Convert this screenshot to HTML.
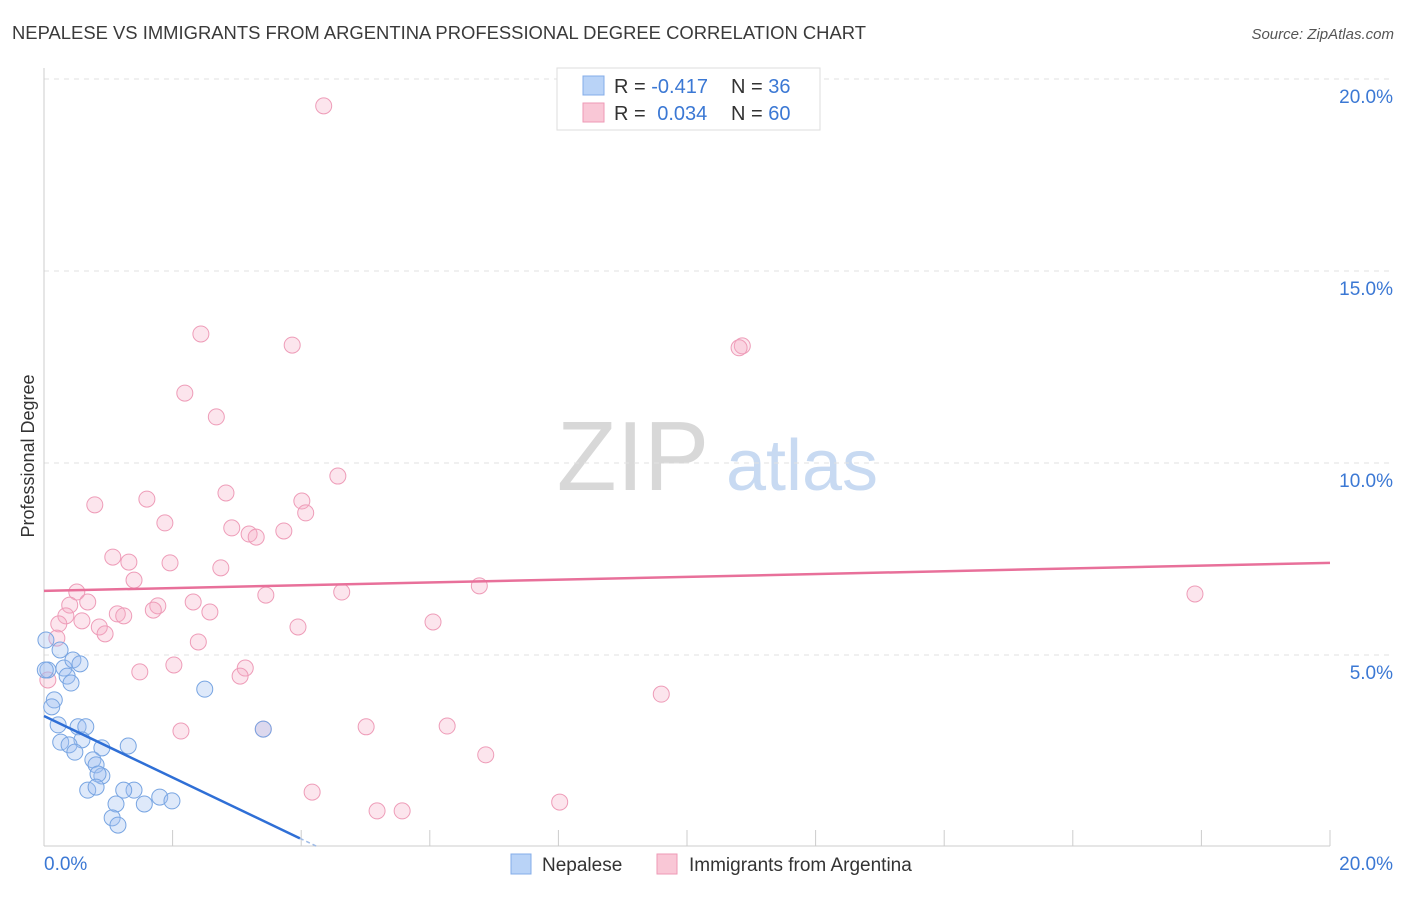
<!DOCTYPE html>
<html><head><meta charset="utf-8"><style>
body{margin:0;background:#fff;font-family:"Liberation Sans",sans-serif}
svg text{font-family:"Liberation Sans",sans-serif}
</style></head><body>
<svg id="c" width="1406" height="892" viewBox="0 0 1406 892">
<text x="12" y="39" font-size="18" fill="#3a3a3a" textLength="854" lengthAdjust="spacingAndGlyphs">NEPALESE VS IMMIGRANTS FROM ARGENTINA PROFESSIONAL DEGREE CORRELATION CHART</text>
<text x="1394" y="39" font-size="15" font-style="italic" fill="#555" text-anchor="end">Source: ZipAtlas.com</text>
<text x="34" y="456" font-size="18" fill="#333" text-anchor="middle" transform="rotate(-90 34 456)">Professional Degree</text>
<g><text x="633" y="490" font-size="98" font-family="Liberation Serif" fill="#d8d8d8" text-anchor="middle">ZIP</text><text x="802" y="490" font-size="72" fill="#c8daf2" text-anchor="middle">atlas</text></g>
<g id="grid"></g><g id="marks"></g>
<g>
<rect x="557" y="68" width="263" height="62" fill="#fff" stroke="#ddd"/>
<rect x="583" y="76" width="21" height="19" fill="#b9d3f7" stroke="#84ade8"/>
<rect x="583" y="103" width="21" height="19" fill="#f9c7d6" stroke="#ee9ab6"/>
<text x="614" y="93" font-size="20" fill="#333">R = <tspan fill="#3b78d4">-0.417</tspan></text>
<text x="731" y="93" font-size="20" fill="#333">N = <tspan fill="#3b78d4">36</tspan></text>
<text x="614" y="120" font-size="20" fill="#333">R = <tspan fill="#3b78d4" dx="6">0.034</tspan></text>
<text x="731" y="120" font-size="20" fill="#333">N = <tspan fill="#3b78d4">60</tspan></text>
</g>
<g>
<rect x="511" y="854" width="20" height="20" fill="#b9d3f7" stroke="#84ade8"/>
<text x="542" y="871" font-size="19" fill="#333">Nepalese</text>
<rect x="657" y="854" width="20" height="20" fill="#f9c7d6" stroke="#ee9ab6"/>
<text x="689" y="871" font-size="19" fill="#333">Immigrants from Argentina</text>
</g>
</svg>
<script>
const yTicks=[5,10,15,20];
const xTickVals=[0,2,4,6,8,10,12,14,16,18,20];
const pinkX=[4.35,2.44,3.86,10.86,10.81,2.19,2.68,4.57,1.60,2.83,4.01,0.79,4.07,1.88,2.92,3.19,3.30,3.73,1.07,1.32,1.96,2.75,1.40,0.51,6.77,17.90,3.45,4.63,2.32,0.68,0.40,1.77,1.70,1.14,1.24,2.58,0.34,0.59,0.23,0.86,3.95,6.05,0.95,0.20,2.40,2.02,3.13,3.05,1.49,9.60,2.13,3.41,5.01,6.27,6.87,4.17,5.18,5.57,8.02,0.06];
const pinkY=[19.30,13.36,13.07,13.05,13.0,11.82,11.20,9.66,9.06,9.22,9.01,8.91,8.70,8.44,8.31,8.15,8.07,8.23,7.55,7.42,7.40,7.27,6.95,6.64,6.80,6.59,6.56,6.64,6.38,6.38,6.30,6.28,6.17,6.07,6.02,6.12,6.02,5.89,5.81,5.73,5.73,5.86,5.55,5.44,5.34,4.74,4.66,4.45,4.56,3.98,3.02,3.07,3.13,3.15,2.40,1.43,0.94,0.94,1.17,4.35];
const blueX=[0.03,0.25,0.06,0.31,0.36,0.45,0.56,0.42,0.16,0.12,0.22,0.53,0.65,0.59,0.26,0.39,0.48,0.90,1.31,0.76,0.81,0.90,0.84,0.68,0.81,1.40,1.24,1.80,1.99,1.12,1.56,1.06,1.15,2.50,3.41,0.02];
const blueY=[5.39,5.13,4.61,4.66,4.45,4.87,4.77,4.27,3.83,3.65,3.18,3.13,3.13,2.79,2.73,2.66,2.47,2.58,2.63,2.27,2.14,1.85,1.90,1.48,1.56,1.48,1.48,1.30,1.20,1.12,1.12,0.76,0.57,4.11,3.07,4.61];
const pinkTrend=[6.67,7.40];
const blueTrend=[3.41,-0.80];
const NS='http://www.w3.org/2000/svg';
const X=v=>44+v*64.3, Y=v=>847-v*38.4;
function mk(t,a,p){const e=document.createElementNS(NS,t);for(const k in a)e.setAttribute(k,a[k]);p.appendChild(e);return e;}
const g=document.getElementById('grid'),m=document.getElementById('marks');
yTicks.forEach(v=>{
 const l=mk('line',{x1:44,x2:1393,y1:Y(v),y2:Y(v),stroke:'#e2e2e2','stroke-dasharray':'5,5'},g);
 
 
 const t=mk('text',{x:1393,y:Y(v)+24,'font-size':19,fill:'#3b78d4','text-anchor':'end'},g);
 t.textContent=v.toFixed(1)+'%';
 
 
});
const ax=mk('line',{x1:44,x2:44,y1:68,y2:846,stroke:'#ccc'},g);


const bx=mk('line',{x1:44,x2:1330,y1:846,y2:846,stroke:'#ccc'},g);


xTickVals.forEach(v=>{const l=mk('line',{x1:X(v),x2:X(v),y1:830,y2:846,stroke:'#ccc'},g);
 
 });
[[0,'start',44],[20,'end',1393]].forEach(([v,a,x])=>{const t=mk('text',{x:x,y:870,'font-size':19,fill:'#3b78d4','text-anchor':a},g);t.textContent=v.toFixed(1)+'%';
 
 });
pinkX.forEach((x,i)=>{const c=mk('circle',{cx:X(x),cy:Y(pinkY[i]),r:8,fill:'rgba(246,170,196,0.3)',stroke:'#ee9cb8','stroke-width':1},m);
 
 });
blueX.forEach((x,i)=>{const c=mk('circle',{cx:X(x),cy:Y(blueY[i]),r:8,fill:'rgba(160,192,240,0.35)',stroke:'#78a5e2','stroke-width':1},m);
 
 });
const pl=mk('line',{x1:X(0),y1:Y(pinkTrend[0]),x2:X(20),y2:Y(pinkTrend[1]),stroke:'#e8709a','stroke-width':2.5},m);


const bEnd=3.98, bZero=-blueTrend[0]/blueTrend[1];
const bl=mk('line',{x1:X(0),y1:Y(blueTrend[0]),x2:X(bEnd),y2:Y(blueTrend[0]+blueTrend[1]*bEnd),stroke:'#2f6fd6','stroke-width':2.5},m);


const bd=mk('line',{x1:X(bEnd),y1:Y(blueTrend[0]+blueTrend[1]*bEnd),x2:X(bZero),y2:Y(0),stroke:'#9fbbe6','stroke-width':1.5,'stroke-dasharray':'4,3'},m);


</script>
</body></html>
